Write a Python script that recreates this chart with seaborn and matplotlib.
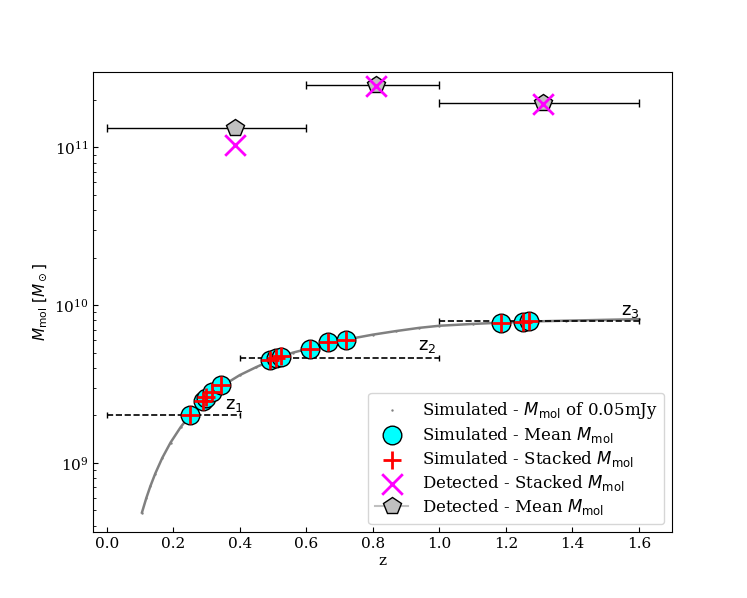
import numpy as np
import matplotlib
matplotlib.use('Agg')
import matplotlib.pyplot as plt
from matplotlib.lines import Line2D
import seaborn as sns

# simulated M_mol curve for 0.05 mJy
z_curve = [0.106, 0.119, 0.131, 0.146, 0.167, 0.192, 0.222, 0.25, 0.29, 0.32, 0.35,
           0.40, 0.45, 0.49, 0.52, 0.56, 0.61, 0.67, 0.72, 0.80, 0.87, 0.94, 1.00,
           1.10, 1.19, 1.27, 1.38, 1.50, 1.60]
m_curve = [4.84e8, 5.97e8, 7.08e8, 8.55e8, 1.074e9, 1.345e9, 1.68e9, 2.0e9, 2.46e9, 2.8e9, 3.1e9,
           3.6e9, 4.05e9, 4.42e9, 4.68e9, 5.0e9, 5.32e9, 5.78e9, 6.05e9, 6.5e9, 6.85e9, 7.18e9, 7.4e9,
           7.6e9, 7.75e9, 7.87e9, 7.97e9, 8.07e9, 8.15e9]

# simulated mean / stacked M_mol per sub-sample
z_sim = [0.25, 0.288, 0.30, 0.318, 0.345, 0.49, 0.51, 0.525, 0.61, 0.665, 0.72, 1.185, 1.25, 1.27]
m_sim_mean = [2.0e9, 2.46e9, 2.58e9, 2.8e9, 3.1e9, 4.46e9, 4.6e9, 4.72e9, 5.3e9, 5.8e9, 6.05e9, 7.75e9, 7.85e9, 7.88e9]
m_sim_stack = [2.0e9, 2.47e9, 2.6e9, 2.8e9, 3.12e9, 4.46e9, 4.62e9, 4.75e9, 5.3e9, 5.8e9, 6.05e9, 7.75e9, 7.85e9, 7.88e9]

# detected galaxies
z_det = [0.385, 0.81, 1.31]
z_det_lo = [0.0, 0.6, 1.0]
z_det_hi = [0.6, 1.0, 1.6]
m_det_stack = [1.03e11, 2.45e11, 1.88e11]
m_det_mean = [1.32e11, 2.48e11, 1.92e11]

# redshift bins
bin_lo = [0.0, 0.4, 1.0]
bin_hi = [0.4, 1.0, 1.6]
bin_m = [2.0e9, 4.6e9, 7.9e9]
bin_names = [r'$\rm z_1$', r'$\rm z_2$', r'$\rm z_3$']
bin_text_pos = [(0.355, 2.2e9), (0.935, 5.2e9), (1.545, 8.6e9)]

plt.rcParams['font.family'] = ['DejaVu Serif']
plt.rcParams['mathtext.fontset'] = 'dejavusans'
plt.rcParams['xtick.direction'] = 'in'
plt.rcParams['ytick.direction'] = 'in'

fig, ax = plt.subplots(figsize=(7.47, 5.98), dpi=100)

ax.plot(z_curve, m_curve, color='gray', lw=1.8, zorder=1)
sns.scatterplot(x=z_curve, y=m_curve, color='gray', s=3, linewidth=0, ax=ax,
                label=r'Simulated - $M_{\rm mol}$ of 0.05mJy', zorder=1)

# bins
for lo, hi, m in zip(bin_lo, bin_hi, bin_m):
    eb = ax.errorbar((lo + hi) / 2, m, xerr=(hi - lo) / 2, fmt='none', ecolor='k',
                     elinewidth=1.2, capsize=2, zorder=2)
    eb[2][0].set_linestyle('--')
for name, (tx, ty) in zip(bin_names, bin_text_pos):
    ax.text(tx, ty, name, fontsize=13)

sns.scatterplot(x=z_sim, y=m_sim_mean, color='cyan', edgecolor='k', linewidth=1, s=180,
                ax=ax, label=r'Simulated - Mean $M_{\rm mol}$', zorder=3)
sns.scatterplot(x=z_sim, y=m_sim_stack, color='red', marker='+', linewidth=2, s=150,
                ax=ax, label=r'Simulated - Stacked $M_{\rm mol}$', zorder=4)
sns.scatterplot(x=z_det, y=m_det_stack, color='magenta', marker='x', linewidth=2, s=220,
                ax=ax, label=r'Detected - Stacked $M_{\rm mol}$', zorder=6)

xerr = [np.subtract(z_det, z_det_lo), np.subtract(z_det_hi, z_det)]
ax.errorbar(z_det, m_det_mean, xerr=xerr, fmt='p', ms=13, mfc='silver', mec='k',
            ecolor='k', elinewidth=1, capsize=3, zorder=5)

ax.set_yscale('log')
ax.set_xlim(-0.04, 1.70)
ax.set_ylim(3.63e8, 3.02e11)
ax.set_xlabel('z', fontsize=11, labelpad=2)
ax.set_ylabel(r'$M_{\rm mol}$ $[M_\odot]$', fontsize=11)
ax.tick_params(labelsize=11)
ax.tick_params(which='both', direction='in')

handles, labels = ax.get_legend_handles_labels()
handles.append(Line2D([], [], color='silver', marker='p', ms=13, mfc='silver', mec='k', lw=1.5))
labels.append(r'Detected - Mean $M_{\rm mol}$')
ax.legend(handles, labels, loc='lower right', fontsize=12, labelspacing=0.25)

fig.savefig('out.png', dpi=100)
